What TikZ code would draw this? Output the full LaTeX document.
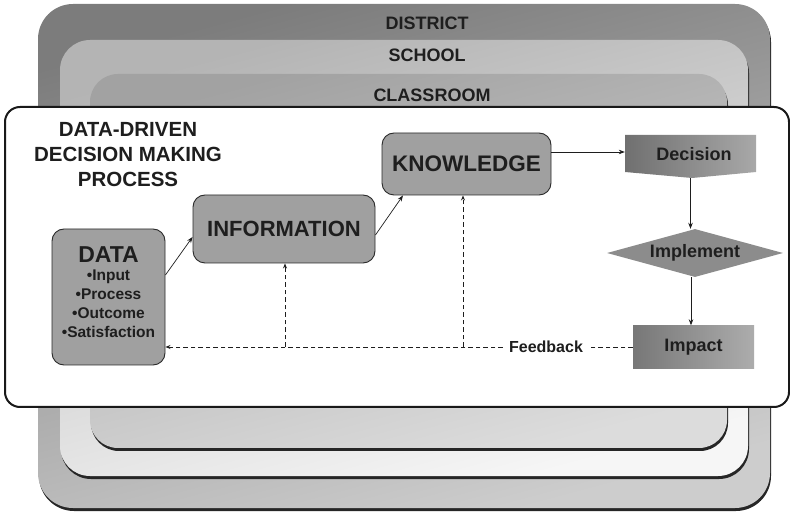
\documentclass[tikz,border=0pt]{standalone}
\usepackage{fontspec}
\setmainfont{Liberation Sans}
\usetikzlibrary{shapes.geometric,arrows.meta}
\definecolor{txt}{HTML}{1E1E1E}
\definecolor{boxfill}{HTML}{A0A0A0}
\definecolor{boxline}{HTML}{2A2A2A}
\definecolor{shadowc}{HTML}{262626}
\definecolor{distA}{HTML}{7C7C7C}
\definecolor{distB}{HTML}{CDCDCD}
\definecolor{schA}{HTML}{B4B4B4}
\definecolor{schB}{HTML}{F6F6F6}
\definecolor{clsA}{HTML}{A2A2A2}
\definecolor{clsB}{HTML}{DCDCDC}
\definecolor{decL}{HTML}{707070}
\definecolor{decR}{HTML}{A8A8A8}
\definecolor{implfill}{HTML}{8C8C8C}
\begin{document}
\begin{tikzpicture}[x=1pt,y=-1pt,
  every node/.style={text=txt, font=\bfseries},
  box/.style={draw=boxline, line width=0.9pt, fill=boxfill, rounded corners=12pt, inner sep=0pt},
  lbl/.style={inner sep=0pt},
  arr/.style={draw=txt, line width=0.7pt, -{Stealth[length=6pt,width=4.5pt]}},
  fbline/.style={draw=txt, line width=0.8pt, dash pattern=on 4.5pt off 3pt},
  fbarr/.style={fbline, -{Stealth[length=5pt,width=4pt]}},
  impbox/.style={rectangle, inner sep=0pt, left color=decL!95!white, right color=decR!95!white}
]
\useasboundingbox (0,0) rectangle (790,526);

% DISTRICT frame
\fill[shadowc, rounded corners=35pt] (39,7) rectangle (771,511);
\shade[rounded corners=35pt, top color=distA, bottom color=distB, shading angle=15] (38,4) rectangle (770,508);
\node[lbl, font=\bfseries\fontsize{18}{20}\selectfont] (district) at (427,23) {DISTRICT};

% SCHOOL frame
\fill[shadowc, rounded corners=30pt] (61,43) rectangle (749,479);
\shade[rounded corners=30pt, top color=schA, bottom color=schB, shading angle=15] (60,40) rectangle (748,476);
\node[lbl, font=\bfseries\fontsize{18}{20}\selectfont] (school) at (427,55) {SCHOOL};

% CLASSROOM frame
\fill[shadowc, rounded corners=28pt] (91,77) rectangle (728,451);
\shade[rounded corners=28pt, top color=clsA, bottom color=clsB, shading angle=15] (90,74) rectangle (727,448);
\node[lbl, font=\bfseries\fontsize{18}{20}\selectfont] (classroom) at (432,95) {CLASSROOM};

% white process frame
\draw[fill=white, draw=black!90, line width=2pt, rounded corners=15pt] (5,107) rectangle (789,407);

% title
\node[lbl, align=center, font=\bfseries\fontsize{20.5}{25}\selectfont] (title) at (128,155) {DATA-DRIVEN\\DECISION MAKING\\PROCESS};

% DATA
\node[box, minimum width=113pt, minimum height=136pt] (data) at (108.5,297) {};
\node[lbl, align=center, font=\bfseries\fontsize{15.5}{19}\selectfont] (datatxt) at (108.5,292)
  {{\fontsize{23}{26}\selectfont DATA}\\[-1pt] •Input\\ •Process\\ •Outcome\\ •Satisfaction};

% INFORMATION
\node[box, minimum width=182pt, minimum height=68pt, font=\bfseries\fontsize{22}{24}\selectfont] (info) at (284,229) {INFORMATION};

% KNOWLEDGE
\node[box, minimum width=169pt, minimum height=62pt, font=\bfseries\fontsize{22.5}{24}\selectfont] (know) at (466.5,164) {KNOWLEDGE};

% Decision
\shade[left color=decL, right color=decR] (625,135) -- (756,135) -- (756,172) -- (692,178) -- (625,172) -- cycle;
\node[lbl, minimum width=131pt, minimum height=43pt] (dec) at (690.5,156.5) {};
\node[lbl, font=\bfseries\fontsize{18}{20}\selectfont] (dectxt) at (694,154) {Decision};

% Implement
\node[diamond, aspect=3.6, fill=implfill, minimum width=176pt, minimum height=48pt, inner sep=0pt,
  font=\bfseries\fontsize{18}{20}\selectfont] (impl) at (695,253) {Implement};

% Impact
\node[impbox, minimum width=121pt, minimum height=43pt, font=\bfseries\fontsize{18}{20}\selectfont] (imp) at (693.5,347) {Impact};

% Feedback label
\node[lbl, font=\bfseries\fontsize{16}{18}\selectfont, inner xsep=6pt, fill=white] (fb) at (546,347) {Feedback};

% connectors
\draw[arr] ([yshift=22pt]data.east) -- ([yshift=-8pt]info.west);
\draw[arr] ([yshift=-6pt]info.east) -- ([xshift=-63.5pt]know.south);
\draw[arr] ([yshift=12pt]know.east) -- ([yshift=12pt]know.east -| dec.west);
\draw[arr] (dec.south) -- (dec.south |- impl.north);
\draw[arr] ([xshift=-4pt]impl.south) -- ([xshift=-4pt]impl.south |- imp.north);

% feedback loop
\coordinate (j1) at (285,347);
\coordinate (j2) at (463,347);
\draw[fbline] (imp.west) -- (imp.west -| fb.east);
\draw[fbarr] (fb.west) -- (data.east |- fb.west);
\draw[fbarr] (j1) -- (j1 |- info.south);
\draw[fbarr] (j2) -- (j2 |- know.south);
\end{tikzpicture}
\end{document}
